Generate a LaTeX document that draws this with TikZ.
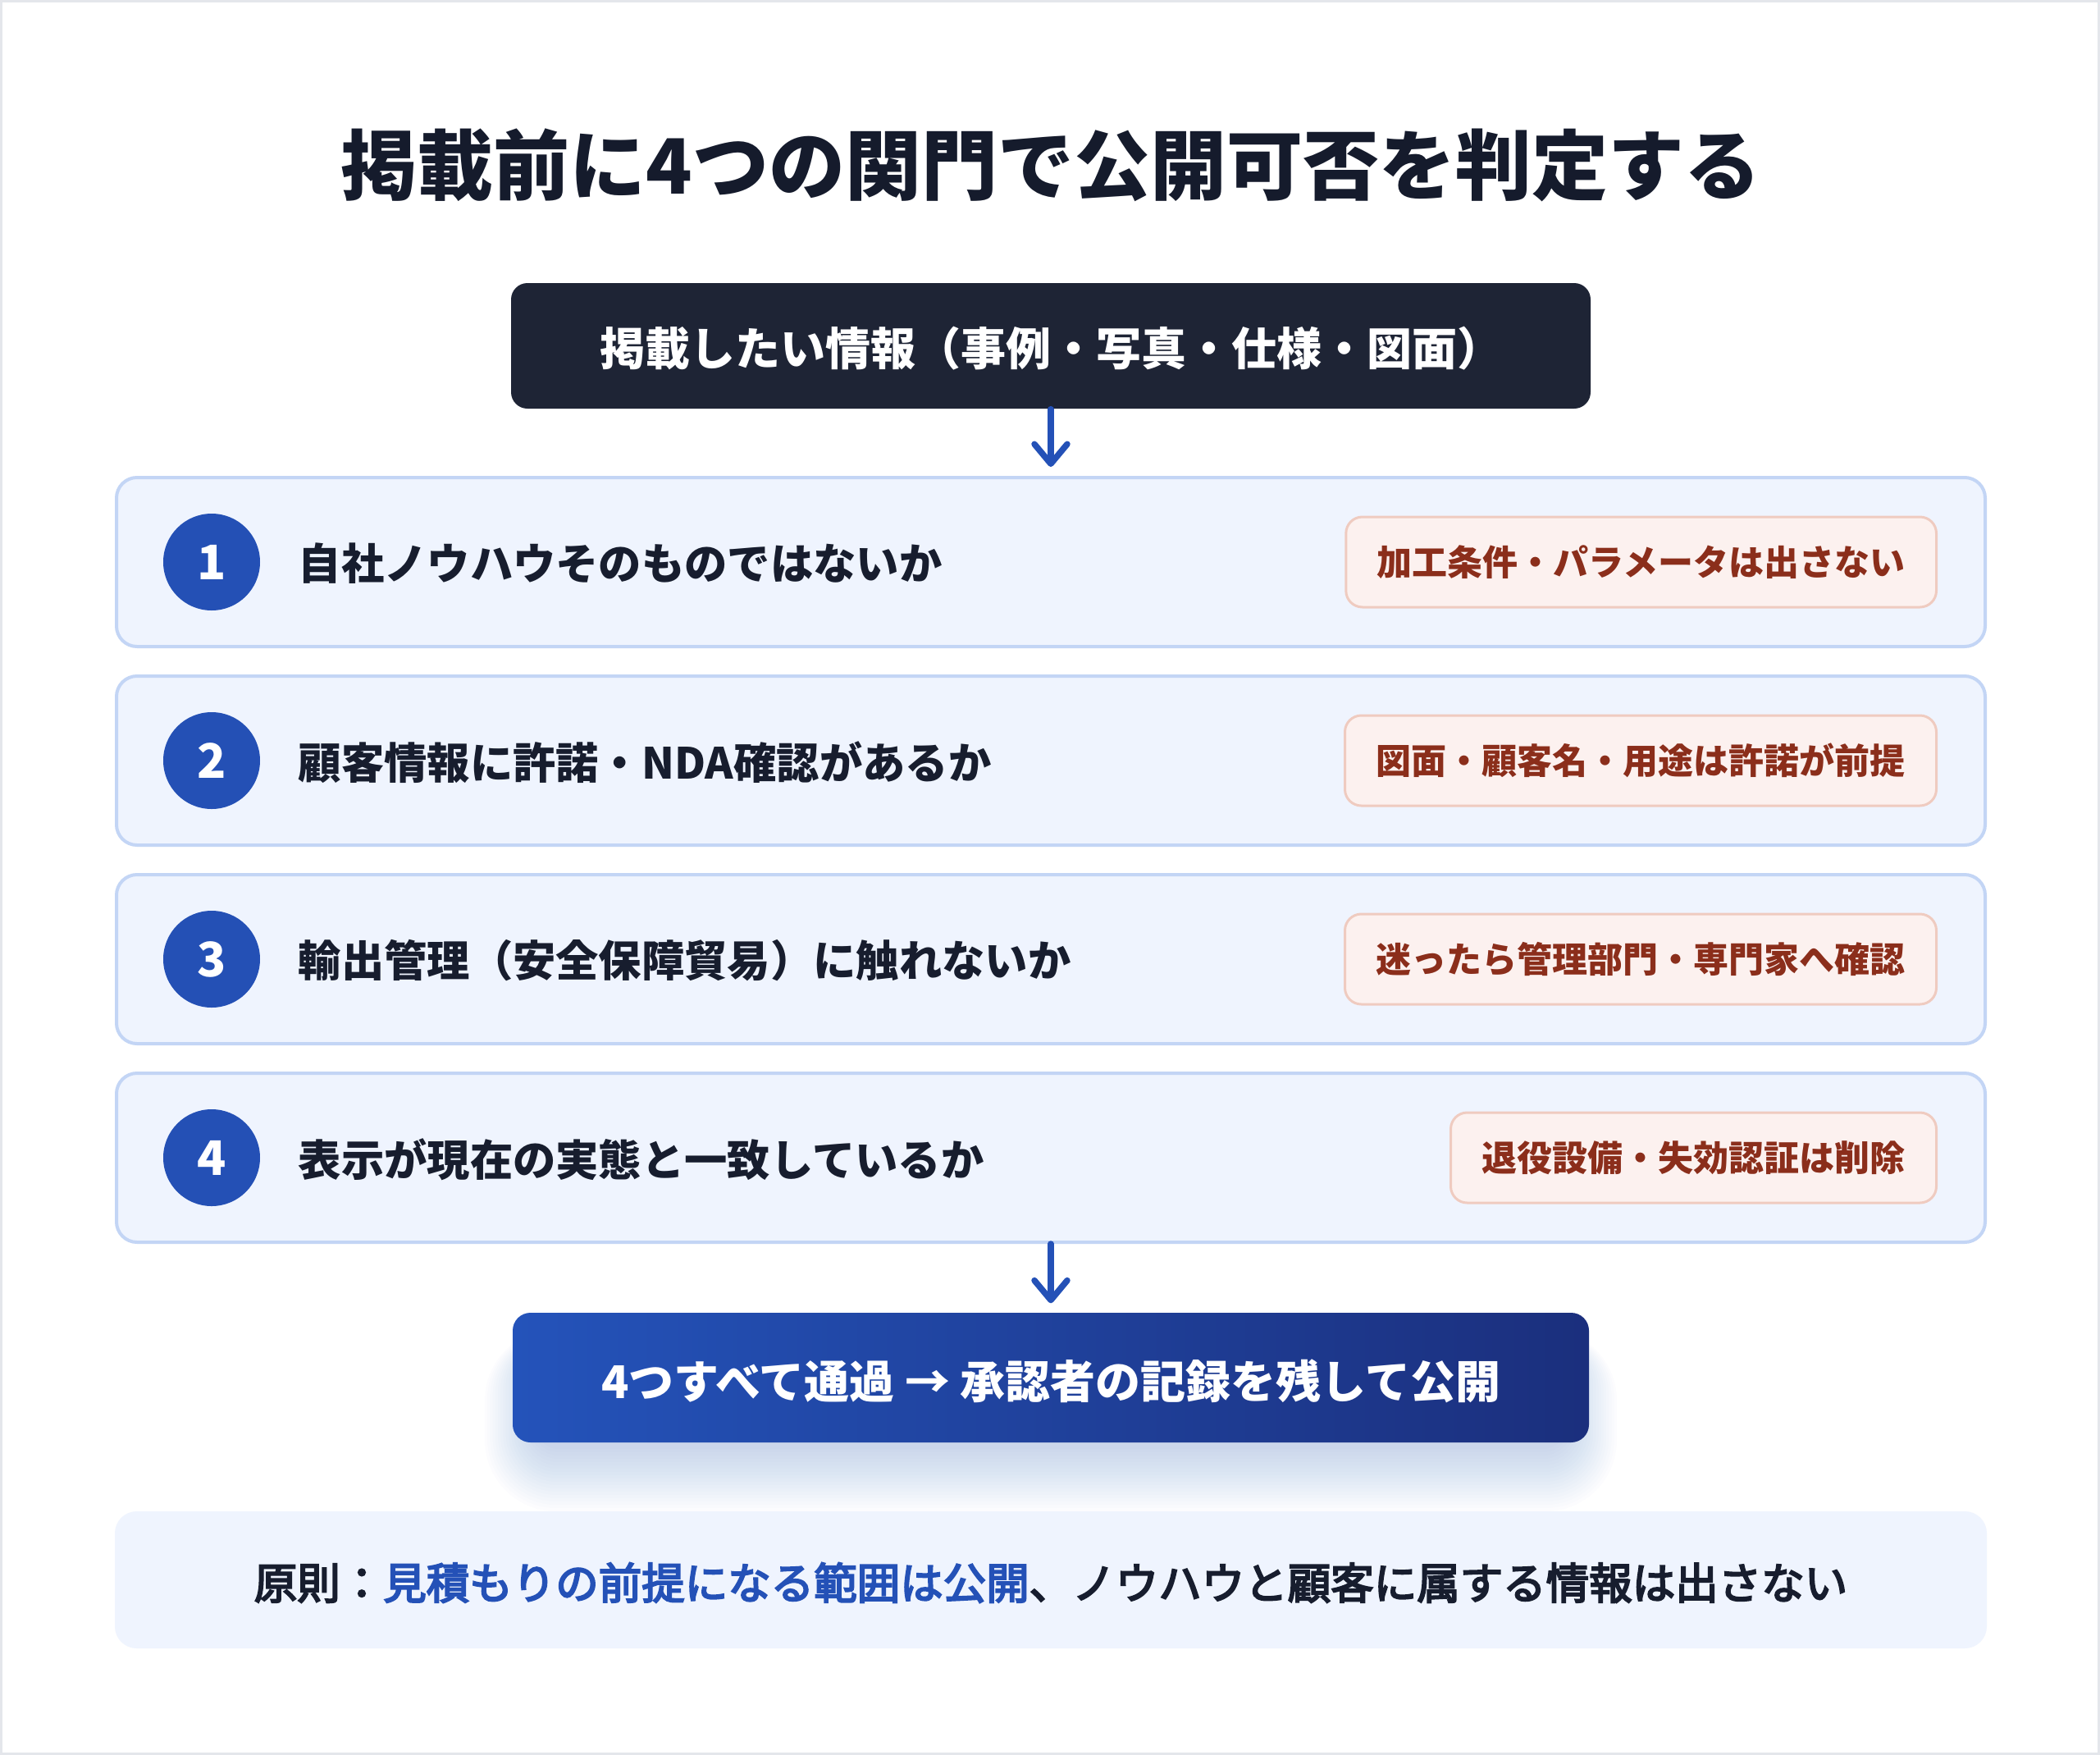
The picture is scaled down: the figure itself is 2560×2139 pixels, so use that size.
\documentclass[tikz,border=0pt]{standalone}
\usepackage{fontspec}
\setmainfont{Noto Sans CJK JP}
\newfontfamily\notefont{Noto Sans CJK JP}[FakeBold=4]
\usetikzlibrary{arrows.meta}
\definecolor{titlec}{HTML}{151B2C}
\definecolor{darkbox}{HTML}{1E2435}
\definecolor{rowfill}{HTML}{EFF4FE}
\definecolor{rowline}{HTML}{C3D5F5}
\definecolor{badgec}{HTML}{2450B5}
\definecolor{arrowc}{HTML}{2451B7}
\definecolor{tagfill}{HTML}{FCF1EF}
\definecolor{tagline}{HTML}{EFCBC0}
\definecolor{tagtext}{HTML}{8B2E1B}
\definecolor{btnA}{HTML}{2453BA}
\definecolor{btnB}{HTML}{1B2F7D}
\definecolor{shadowc}{HTML}{3152B5}
\definecolor{framec}{HTML}{E4E6EB}
\definecolor{bodytext}{HTML}{171D2E}
\def\u{0.3pt}
\tikzset{
  titletext/.style={inner sep=0pt, text=titlec, font=\bfseries\fontsize{27.9pt}{32pt}\selectfont},
  startbox/.style={fill=darkbox, rounded corners=6pt, minimum width=1316*\u, minimum height=153*\u, inner sep=0pt},
  starttext/.style={inner sep=0pt, text=white, font=\bfseries\fontsize{16.5pt}{20pt}\selectfont},
  rowbox/.style={fill=rowfill, draw=rowline, line width=4*\u, rounded corners=7.5pt, minimum width=2278*\u, minimum height=206*\u, inner sep=0pt},
  badge/.style={circle, fill=badgec, minimum size=118*\u, inner sep=0pt, text=white, font=\bfseries\fontsize{17.4pt}{20pt}\selectfont},
  qtext/.style={inner sep=0pt, anchor=west, text=bodytext, font=\bfseries\fontsize{15.7pt}{19pt}\selectfont},
  tagbox/.style={anchor=east, fill=tagfill, draw=tagline, line width=3*\u, rounded corners=6pt, minimum height=110*\u, inner xsep=38*\u, inner ysep=0pt, text=tagtext, font=\bfseries\fontsize{12.9pt}{16pt}\selectfont},
  btnbox/.style={rounded corners=6.5pt, left color=btnA, right color=btnB, minimum width=1312*\u, minimum height=158*\u, inner sep=0pt},
  btntext/.style={inner sep=0pt, text=white, font=\bfseries\fontsize{16.5pt}{20pt}\selectfont},
  notebox/.style={fill=rowfill, rounded corners=8pt, minimum width=2282*\u, minimum height=167*\u, inner sep=0pt},
  notetext/.style={inner sep=0pt, text=bodytext, font=\notefont\fontsize{15.75pt}{19pt}\selectfont},
  flowarrow/.style={draw=arrowc, line width=2.25pt, line cap=round, -{Straight Barb[round, length=7.2pt, width=12pt]}}
}
\begin{document}
\begin{tikzpicture}[x=0.3pt,y=-0.3pt]
\useasboundingbox (0,0) rectangle (2560,2139);
\fill[white] (0,0) rectangle (2560,2139);
\draw[framec, line width=3*\u] (1.5,1.5) rectangle (2558.5,2137.5);

% title
\node[titletext] (title) at (1281,201) {掲載前に4つの関門で公開可否を判定する};

% start box
\node[startbox] (start) at (1281,421.5) {};
\node[starttext] (startt) at (1281,425) {掲載したい情報（事例・写真・仕様・図面）};

% rows
\node[rowbox] (r1) at (1281,685) {};
\node[rowbox] (r2) at (1281,927) {};
\node[rowbox] (r3) at (1281,1169) {};
\node[rowbox] (r4) at (1281,1411) {};

\node[badge] (b1) at (258,685) {1};
\node[badge] (b2) at (258,927) {2};
\node[badge] (b3) at (258,1169) {3};
\node[badge] (b4) at (258,1411) {4};

\node[qtext] (q1) at (363,687) {自社ノウハウそのものではないか};
\node[qtext] (q2) at (363,929) {顧客情報に許諾・NDA確認があるか};
\node[qtext] (q3) at (363,1171) {輸出管理（安全保障貿易）に触れないか};
\node[qtext] (q4) at (363,1413) {表示が現在の実態と一致しているか};

\node[tagbox] (t1) at (2362,685) {加工条件・パラメータは出さない};
\node[tagbox] (t2) at (2362,927) {図面・顧客名・用途は許諾が前提};
\node[tagbox] (t3) at (2362,1169) {迷ったら管理部門・専門家へ確認};
\node[tagbox] (t4) at (2362,1411) {退役設備・失効認証は削除};

% shadow of final button
\foreach \i in {1,...,20}{
  \fill[shadowc, opacity=0.012, rounded corners=8pt+0.9pt*\i]
    (655-3.2*\i,1640-1*\i) rectangle (1907+3.2*\i,1762+4*\i);
}
\node[btnbox] (done) at (1281,1679) {};
\node[btntext] (donet) at (1281,1683) {4つすべて通過 → 承認者の記録を残して公開};

% note
\node[notebox] (note) at (1281,1925.5) {};
\node[notetext] (notet) at (1281,1929) {原則：\textcolor{arrowc}{見積もりの前提になる範囲は公開}、ノウハウと顧客に属する情報は出さない};

% connectors
\draw[flowarrow, shorten >=11*\u] (start.south) -- (r1.north);
\draw[flowarrow, shorten >=11*\u] (r4.south) -- (done.north);
\end{tikzpicture}
\end{document}
